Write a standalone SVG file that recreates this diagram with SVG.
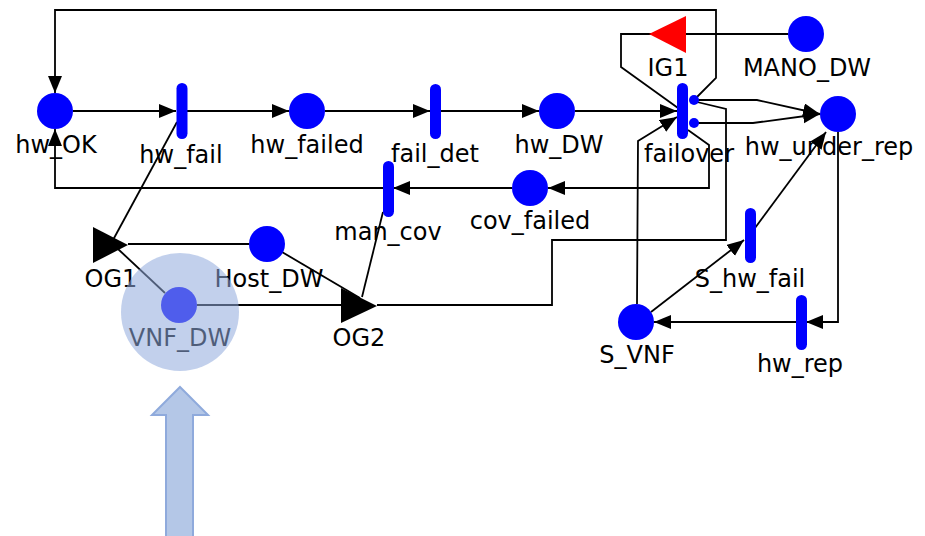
<svg xmlns="http://www.w3.org/2000/svg" width="925" height="536" viewBox="0 0 925 536">
<style>
.ln{fill:none;stroke:#000;stroke-width:1.8}
.ar{marker-end:url(#ah)}
.pl{fill:#0000ff}
.tr{fill:#0000ff}
.lb{font-family:"DejaVu Sans","Liberation Sans",sans-serif;font-size:24px;fill:#000;text-anchor:middle}
</style>
<defs>
<marker id="ah" markerUnits="userSpaceOnUse" markerWidth="18" markerHeight="15" refX="17" refY="7" orient="auto">
<path d="M0,0 L17,7 L0,14 z" fill="#000"/>
</marker>
</defs>
<rect width="925" height="536" fill="#fff"/>
<g id="connectors">
<path class="ln ar" d="M694,100 L716,78 L716,10 L55,10 L55,93"/>
<path class="ln" d="M788,34 L621,34 L621,67 L678,108"/>
<path class="ln ar" d="M73,111 L176,111"/>
<path class="ln ar" d="M187,111 L289,111"/>
<path class="ln ar" d="M325,111 L430,111"/>
<path class="ln ar" d="M440,111 L539,111"/>
<path class="ln ar" d="M575,111 L677,111"/>
<path class="ln ar" d="M697,100 L757,100 L820,114"/>
<path class="ln ar" d="M697,123 L753,123 L820,114"/>
<path class="ln ar" d="M688,130 L709,145 L709,188 L548,188"/>
<path class="ln" d="M697,102 L726,109 L726,240 L552,240 L552,305 L377,305"/>
<path class="ln" d="M197,305 L341,305"/>
<path class="ln" d="M282,252 L360,298"/>
<path class="ln" d="M249,244 L128,244"/>
<path class="ln" d="M165,293 L118,249"/>
<path class="ln" d="M113,240 L177,122"/>
<path class="ln" d="M362,297 L383,212"/>
<path class="ln ar" d="M512,188 L393,188"/>
<path class="ln ar" d="M383,188 L55,188 L55,129"/>
<path class="ln ar" d="M838,132 L838,322 L806,322"/>
<path class="ln ar" d="M796,322 L654,322"/>
<path class="ln ar" d="M651,312 L744,240"/>
<path class="ln ar" d="M755,228 L826,132"/>
<path class="ln ar" d="M637,304 L638,141 L677,117"/>
</g>
<g id="hw_OK"><circle class="pl" cx="55" cy="111" r="18"/><text class="lb" x="56" y="153">hw_OK</text></g>
<g id="hw_fail"><rect class="tr" x="176.5" y="83" width="11" height="56" rx="5.5"/><text class="lb" x="181" y="163">hw_fail</text></g>
<g id="hw_failed"><circle class="pl" cx="307" cy="111" r="18"/><text class="lb" x="307" y="153">hw_failed</text></g>
<g id="fail_det"><rect class="tr" x="430" y="84" width="11" height="55" rx="5.5"/><text class="lb" x="435" y="162">fail_det</text></g>
<g id="hw_DW"><circle class="pl" cx="557" cy="111" r="18"/><text class="lb" x="559" y="153">hw_DW</text></g>
<g id="failover"><rect class="tr" x="677" y="83" width="11" height="56" rx="5.5"/><circle class="pl" cx="694" cy="100" r="5"/><circle class="pl" cx="694" cy="123" r="5"/><text class="lb" x="689" y="162">failover</text></g>
<g id="hw_under_rep"><circle class="pl" cx="838" cy="114" r="18"/><text class="lb" x="829" y="155">hw_under_rep</text></g>
<g id="IG1"><polygon points="686,16 686,53 649,34" fill="#ff0000"/><text class="lb" x="668" y="76">IG1</text></g>
<g id="MANO_DW"><circle class="pl" cx="806" cy="34" r="18"/><text class="lb" x="807" y="76">MANO_DW</text></g>
<g id="cov_failed"><circle class="pl" cx="530" cy="188" r="18"/><text class="lb" x="530" y="229">cov_failed</text></g>
<g id="man_cov"><rect class="tr" x="383" y="161" width="11" height="56" rx="5.5"/><text class="lb" x="388" y="240">man_cov</text></g>
<g id="OG1"><polygon points="93,227 93,263 128,245" fill="#000"/><text class="lb" x="111" y="287">OG1</text></g>
<g id="Host_DW"><circle class="pl" cx="267" cy="244" r="18"/><text class="lb" x="269" y="287">Host_DW</text></g>
<g id="VNF_DW"><circle class="pl" cx="179" cy="305" r="18"/><text class="lb" x="180" y="346">VNF_DW</text></g>
<g id="OG2"><polygon points="341,288 341,323 377,306" fill="#000"/><text class="lb" x="359" y="346">OG2</text></g>
<g id="S_VNF"><circle class="pl" cx="636" cy="322" r="18"/><text class="lb" x="637" y="363">S_VNF</text></g>
<g id="S_hw_fail"><rect class="tr" x="745" y="208" width="11" height="55" rx="5.5"/><text class="lb" x="750" y="287">S_hw_fail</text></g>
<g id="hw_rep"><rect class="tr" x="796" y="295" width="11" height="55" rx="5.5"/><text class="lb" x="800" y="372">hw_rep</text></g>
<g id="highlight">
<circle cx="180" cy="312" r="59" fill="#8faadc" fill-opacity="0.55"/>
<path d="M180,387 L208,415 L193,415 L193,537 L166,537 L166,415 L152,415 Z" fill="#b4c7e7" stroke="#8faadc" stroke-width="2"/>
</g>
</svg>
